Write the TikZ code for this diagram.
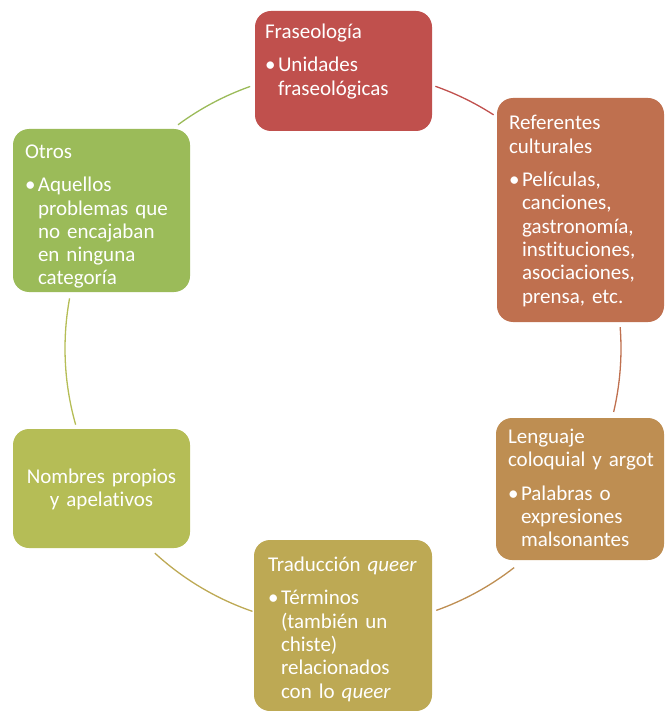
\documentclass[tikz,border=0pt]{standalone}
\usepackage{fontspec}
\setmainfont{Carlito}[Ligatures=NoCommon]
\frenchspacing

\definecolor{cFras}{RGB}{192,80,77}
\definecolor{cRef}{RGB}{191,112,79}
\definecolor{cLeng}{RGB}{190,142,82}
\definecolor{cTrad}{RGB}{189,169,84}
\definecolor{cNomb}{RGB}{181,189,86}
\definecolor{cOtros}{RGB}{155,187,89}
\newcommand{\cycbullet}{\makebox[13pt][l]{\textbullet}}
\newcommand{\cycindent}{\hspace*{13pt}}

\begin{document}
\begin{tikzpicture}[x=1pt,y=1pt,
	cycbox/.style={rounded corners=16pt, text=white, align=left, inner ysep=0pt, font=\fontsize{21}{23.3}\selectfont},
	cycarc/.style={line width=1.3pt}]
	\useasboundingbox (0,0) rectangle (664,-711);
	\coordinate (ring) at (343,-348.5);
	\node[cycbox, fill=cFras, inner xsep=10pt, text width=157pt, text height=27.7pt, text depth=92.3pt] (fras) at (343.5,-71)
		{Fraseología\\[10pt]\cycbullet Unidades\\\cycindent fraseológicas};
	\node[cycbox, fill=cRef, inner xsep=12pt, text width=143pt, text height=32pt, text depth=192pt] (ref) at (580.5,-210)
		{Referentes\\culturales\\[10pt]\cycbullet Películas,\\\cycindent canciones,\\\cycindent gastronomía,\\\cycindent instituciones,\\\cycindent asociaciones,\\\cycindent prensa, etc.};
	\node[cycbox, fill=cLeng, inner xsep=12pt, text width=144pt, text height=25.5pt, text depth=116.5pt] (leng) at (580,-489)
		{Lenguaje\\\mbox{coloquial y argot}\\[10pt]\cycbullet Palabras o\\\cycindent expresiones\\\cycindent malsonantes};
	\node[cycbox, fill=cTrad, inner xsep=14pt, text width=150pt, text height=31.5pt, text depth=139.5pt] (trad) at (343,-625.5)
		{Traducción \textit{queer}\\[10pt]\cycbullet Términos\\\cycindent (también un\\\cycindent chiste)\\\cycindent relacionados\\\cycindent con lo \textit{queer}};
	\node[cycbox, fill=cNomb, align=center, inner xsep=10pt, text width=157pt, text height=54.3pt, text depth=64.7pt] (nomb) at (101.5,-488.5)
		{Nombres propios\\y apelativos};
	\node[cycbox, fill=cOtros, inner xsep=12pt, text width=153pt, text height=29.5pt, text depth=133.5pt] (otros) at (101.5,-210.5)
		{Otros\\[10pt]\cycbullet Aquellos\\\cycindent problemas que\\\cycindent no encajaban\\\cycindent en ninguna\\\cycindent categoría};
	\foreach \from/\to/\col in {70.6/57.2/cFras, 4.4/-13.2/cRef, -52/-70.4/cLeng, -109/-132.6/cTrad, -164.1/-190.4/cNomb, 126.4/109.5/cOtros}
		\draw[cycarc, draw=\col] ([shift={(\from:278)}]ring) arc[start angle=\from, end angle=\to, radius=278];
\end{tikzpicture}
\end{document}
